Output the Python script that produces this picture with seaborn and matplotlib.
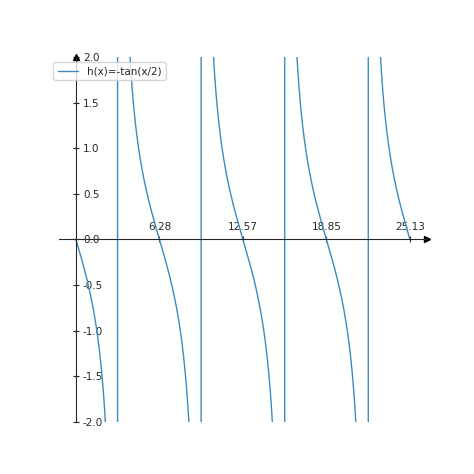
import numpy as np
import seaborn as sns
import matplotlib.pyplot as plt

x_start = 0.0
x_end = 8 * np.pi
x_ticks = [6.28, 12.57, 18.85, 25.13]
y_ticks = [-2.0, -1.5, -1.0, -0.5, 0.0, 0.5, 1.0, 1.5, 2.0]

x = np.linspace(x_start, x_end, 2000)
h = -np.tan(x / 2)

sns.set_style("ticks")
fig, ax = plt.subplots(figsize=(4.74, 4.74), dpi=100)
sns.lineplot(x=x, y=h, ax=ax, label="h(x)=-tan(x/2)", linewidth=1, sort=False,
             color="#3b8bc2")

ax.set_ylim(-2, 2)
ax.spines["left"].set_position("zero")
ax.spines["bottom"].set_position("zero")
ax.spines["top"].set_visible(False)
ax.spines["right"].set_visible(False)
ax.plot(1, 0, ">k", transform=ax.get_yaxis_transform(), clip_on=False, markersize=4)
ax.plot(0, 1, "^k", transform=ax.get_xaxis_transform(), clip_on=False, markersize=4)
ax.set_xticks(x_ticks)
ax.set_xticklabels([f"{t:.2f}" for t in x_ticks], va="bottom")
ax.set_yticks(y_ticks)
ax.set_yticklabels([f"{t:.1f}" for t in y_ticks], ha="left")
ax.tick_params(labelsize=7.5, direction="inout", length=4)
ax.tick_params(axis="x", pad=-7)
ax.tick_params(axis="y", pad=-7)
ax.legend(loc="upper left", fontsize=7.5, bbox_to_anchor=(-0.03, 1.0))

fig.savefig("out.png", dpi=100)
